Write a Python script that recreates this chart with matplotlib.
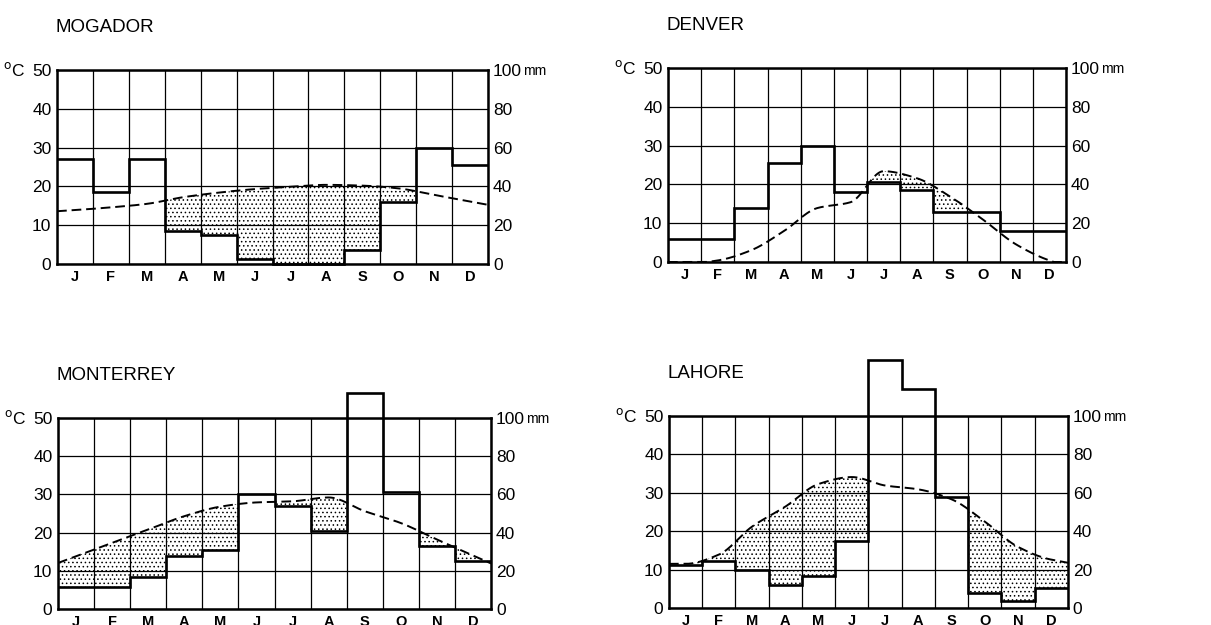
import numpy as np
import matplotlib.pyplot as plt

plt.rcParams['font.family'] = ['Liberation Sans', 'DejaVu Sans']
plt.rcParams['hatch.linewidth'] = 0.6
plt.rcParams['hatch.color'] = 'black'

months = ['J', 'F', 'M', 'A', 'M', 'J', 'J', 'A', 'S', 'O', 'N', 'D']

# monthly precipitation (mm) and mean temperature (°C)
mogador_rain = [54, 37, 54, 17, 15, 2.5, 0, 0, 7, 32, 60, 51]
mogador_temp = [13.9, 14.6, 15.5, 17.2, 18.4, 19.3, 19.9, 20.4, 20.2, 19.5, 17.8, 16.1]

denver_rain = [12, 12, 28, 51, 60, 36, 41, 37, 26, 26, 16, 16]
denver_temp = [-0.5, 0.4, 3.0, 8.0, 13.9, 15.4, 23.4, 21.6, 16.9, 10.9, 4.5, 0.4]

monterrey_rain = [11.5, 11.5, 17, 28, 31, 60, 54, 41, 113, 61, 33, 25]
monterrey_temp = [13.8, 17.3, 20.8, 24.3, 26.8, 27.9, 28.2, 29.2, 25.6, 22.5, 18.2, 14.0]

lahore_rain = [22.5, 24.5, 20, 12, 16.5, 35, 129, 114, 58, 8, 3.5, 10.5]
lahore_temp = [11.5, 13.9, 21.2, 26.4, 32.3, 34.1, 31.9, 30.9, 28.3, 22.5, 15.9, 12.6]


def smooth(y, xn):
    # monotone cubic (pchip) through month centres, linear beyond the ends
    y = np.asarray(y, float)
    x = np.arange(len(y)) + 0.5
    d = np.diff(y)
    m = np.zeros_like(y)
    for k in range(1, len(y) - 1):
        if d[k - 1] * d[k] > 0:
            m[k] = 2.0 / (1.0 / d[k - 1] + 1.0 / d[k])
    m[0] = (3 * d[0] - d[1]) / 2
    if m[0] * d[0] <= 0:
        m[0] = 0
    m[-1] = (3 * d[-1] - d[-2]) / 2
    if m[-1] * d[-1] <= 0:
        m[-1] = 0
    out = np.empty_like(xn)
    for j, xv in enumerate(xn):
        if xv <= x[0]:
            out[j] = y[0] + m[0] * (xv - x[0])
        elif xv >= x[-1]:
            out[j] = y[-1] + m[-1] * (xv - x[-1])
        else:
            k = min(int(xv - x[0]), len(y) - 2)
            t = xv - x[k]
            h00 = 2 * t**3 - 3 * t**2 + 1
            h10 = t**3 - 2 * t**2 + t
            h01 = -2 * t**3 + 3 * t**2
            h11 = t**3 - t**2
            out[j] = h00 * y[k] + h10 * m[k] + h01 * y[k + 1] + h11 * m[k + 1]
    return out


def climate(ax, title, temp, rain):
    ax.set_xlim(0, 12)
    ax.set_ylim(0, 50)
    rain_c = np.array(rain) / 2.0

    # stippled dry season: temperature curve above rainfall
    seg_x = np.concatenate([np.linspace(i, i + 1, 101) for i in range(12)])
    seg_p = np.repeat(rain_c, 101)
    seg_t = np.clip(smooth(temp, seg_x), 0, None)
    ax.fill_between(seg_x, seg_p, seg_t, where=seg_t > seg_p, interpolate=True,
                    facecolor='none', edgecolor='black', hatch='....', lw=0, zorder=1)

    ax.set_xticks(np.arange(13))
    ax.set_xticks(np.arange(12) + 0.5, minor=True)
    ax.set_xticklabels([])
    ax.set_xticklabels(months, minor=True, fontsize=10.5, fontweight='bold')
    ax.set_yticks(np.arange(0, 51, 10))
    ax.set_yticklabels([str(v) for v in range(0, 51, 10)], fontsize=12.5)
    ax.tick_params(which='both', length=0)
    ax.tick_params(axis='x', which='minor', pad=4)
    ax.tick_params(axis='y', pad=4)
    ax.grid(True, which='major', color='black', lw=0.9, zorder=2)
    ax.set_axisbelow(False)

    ax.stairs(rain_c, np.arange(13), baseline=None, color='black', lw=1.9,
              clip_on=False, zorder=4)
    xs = np.linspace(0, 12, 1201)
    ax.plot(xs, np.clip(smooth(temp, xs), 0, None), color='black', lw=1.4,
            dashes=(5, 2.5), zorder=5)

    for s in ax.spines.values():
        s.set_linewidth(1.8)
        s.set_zorder(6)

    ax2 = ax.twinx()
    ax2.set_ylim(0, 100)
    ax2.set_yticks(np.arange(0, 101, 20))
    ax2.set_yticklabels([str(v) for v in range(0, 101, 20)], fontsize=12.5)
    ax2.tick_params(length=0, pad=3.5)
    for s in ax2.spines.values():
        s.set_visible(False)

    ax.annotate(title, xy=(0, 1), xycoords='axes fraction', xytext=(-1, 27),
                textcoords='offset points', fontsize=13.5, va='baseline', ha='left')
    ax.annotate(r'$^{\mathrm{o}}$C', xy=(0, 1), xycoords='axes fraction', xytext=(-23, 0),
                textcoords='offset points', fontsize=12.5, va='center', ha='right')
    ax.annotate('mm', xy=(1, 1), xycoords='axes fraction', xytext=(25, -1),
                textcoords='offset points', fontsize=10, va='center', ha='left')


fig = plt.figure(figsize=(12.11, 6.25), dpi=100)

ax1 = fig.add_axes([0.0471, 0.5776, 0.3559, 0.3104])
ax2 = fig.add_axes([0.5516, 0.5808, 0.3287, 0.3104])
ax3 = fig.add_axes([0.0479, 0.0256, 0.3576, 0.3056])
ax4 = fig.add_axes([0.5524, 0.0272, 0.3295, 0.3072])

climate(ax1, 'MOGADOR', mogador_temp, mogador_rain)
climate(ax2, 'DENVER', denver_temp, denver_rain)
climate(ax3, 'MONTERREY', monterrey_temp, monterrey_rain)
climate(ax4, 'LAHORE', lahore_temp, lahore_rain)

fig.savefig('out.png', dpi=100)
